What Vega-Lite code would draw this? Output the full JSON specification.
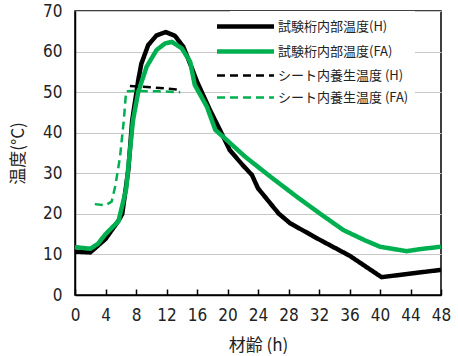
{
  "$schema": "https://vega.github.io/schema/vega-lite/v6.json",
  "width": 366,
  "height": 284,
  "autosize": "none",
  "padding": {"left": 75, "top": 11, "right": 17, "bottom": 61},
  "background": "white",
  "config": {
    "view": {"stroke": "black", "strokeWidth": 1.5},
    "axis": {"labelFont": "Liberation Sans Narrow, DejaVu Sans Condensed, Arial Narrow, Liberation Sans", "labelFontSize": 17, "labelColor": "#222", "titleFont": "Noto Sans CJK JP", "titleFontSize": 17, "titleFontWeight": "normal", "titleColor": "#222"}
  },
  "data": {"values": [
    {"s": "試験桁内部温度(H)", "h": 0, "v": 10.7},
    {"s": "試験桁内部温度(H)", "h": 2, "v": 10.5},
    {"s": "試験桁内部温度(H)", "h": 4, "v": 13.8},
    {"s": "試験桁内部温度(H)", "h": 5.7, "v": 18.3},
    {"s": "試験桁内部温度(H)", "h": 6.2, "v": 20},
    {"s": "試験桁内部温度(H)", "h": 7, "v": 31},
    {"s": "試験桁内部温度(H)", "h": 7.5, "v": 43},
    {"s": "試験桁内部温度(H)", "h": 8.3, "v": 53},
    {"s": "試験桁内部温度(H)", "h": 8.7, "v": 57},
    {"s": "試験桁内部温度(H)", "h": 9.6, "v": 61.6},
    {"s": "試験桁内部温度(H)", "h": 10.7, "v": 64},
    {"s": "試験桁内部温度(H)", "h": 11.9, "v": 64.8},
    {"s": "試験桁内部温度(H)", "h": 13.1, "v": 63.9},
    {"s": "試験桁内部温度(H)", "h": 14.2, "v": 61.2},
    {"s": "試験桁内部温度(H)", "h": 15.1, "v": 57},
    {"s": "試験桁内部温度(H)", "h": 16, "v": 52.6},
    {"s": "試験桁内部温度(H)", "h": 17.7, "v": 45.6},
    {"s": "試験桁内部温度(H)", "h": 19, "v": 40.7},
    {"s": "試験桁内部温度(H)", "h": 20.3, "v": 35.7},
    {"s": "試験桁内部温度(H)", "h": 22, "v": 32},
    {"s": "試験桁内部温度(H)", "h": 23.2, "v": 29.6},
    {"s": "試験桁内部温度(H)", "h": 24, "v": 26.3},
    {"s": "試験桁内部温度(H)", "h": 26.7, "v": 20.1},
    {"s": "試験桁内部温度(H)", "h": 28.2, "v": 17.7},
    {"s": "試験桁内部温度(H)", "h": 32.1, "v": 13.6},
    {"s": "試験桁内部温度(H)", "h": 36, "v": 9.7},
    {"s": "試験桁内部温度(H)", "h": 40.2, "v": 4.4},
    {"s": "試験桁内部温度(H)", "h": 48, "v": 6.2},
    {"s": "試験桁内部温度(FA)", "h": 0, "v": 11.8},
    {"s": "試験桁内部温度(FA)", "h": 2, "v": 11.4},
    {"s": "試験桁内部温度(FA)", "h": 3, "v": 12.6},
    {"s": "試験桁内部温度(FA)", "h": 4, "v": 15},
    {"s": "試験桁内部温度(FA)", "h": 5.7, "v": 18.2},
    {"s": "試験桁内部温度(FA)", "h": 6.7, "v": 26},
    {"s": "試験桁内部温度(FA)", "h": 7.6, "v": 43},
    {"s": "試験桁内部温度(FA)", "h": 8.3, "v": 50.1},
    {"s": "試験桁内部温度(FA)", "h": 9.4, "v": 56.3},
    {"s": "試験桁内部温度(FA)", "h": 10.7, "v": 60.4},
    {"s": "試験桁内部温度(FA)", "h": 11.8, "v": 62},
    {"s": "試験桁内部温度(FA)", "h": 12.7, "v": 62.4},
    {"s": "試験桁内部温度(FA)", "h": 14, "v": 60.8},
    {"s": "試験桁内部温度(FA)", "h": 15.1, "v": 57.5},
    {"s": "試験桁内部温度(FA)", "h": 15.7, "v": 51.8},
    {"s": "試験桁内部温度(FA)", "h": 17.3, "v": 46.4},
    {"s": "試験桁内部温度(FA)", "h": 18.4, "v": 40.7},
    {"s": "試験桁内部温度(FA)", "h": 19.9, "v": 38.2},
    {"s": "試験桁内部温度(FA)", "h": 22.3, "v": 34.1},
    {"s": "試験桁内部温度(FA)", "h": 25.6, "v": 29.2},
    {"s": "試験桁内部温度(FA)", "h": 29.1, "v": 24.2},
    {"s": "試験桁内部温度(FA)", "h": 32.1, "v": 20.1},
    {"s": "試験桁内部温度(FA)", "h": 35.2, "v": 16},
    {"s": "試験桁内部温度(FA)", "h": 38, "v": 13.5},
    {"s": "試験桁内部温度(FA)", "h": 40, "v": 11.9},
    {"s": "試験桁内部温度(FA)", "h": 43.5, "v": 10.8},
    {"s": "試験桁内部温度(FA)", "h": 45.2, "v": 11.3},
    {"s": "試験桁内部温度(FA)", "h": 48, "v": 11.9},
    {"s": "シート内養生温度 (H)", "h": 7.2, "v": 51.5},
    {"s": "シート内養生温度 (H)", "h": 10, "v": 51.2},
    {"s": "シート内養生温度 (H)", "h": 13.8, "v": 50.6},
    {"s": "シート内養生温度 (FA)", "h": 2.6, "v": 22.4},
    {"s": "シート内養生温度 (FA)", "h": 4, "v": 22.1},
    {"s": "シート内養生温度 (FA)", "h": 4.8, "v": 23},
    {"s": "シート内養生温度 (FA)", "h": 5.3, "v": 27},
    {"s": "シート内養生温度 (FA)", "h": 5.9, "v": 34},
    {"s": "シート内養生温度 (FA)", "h": 6.4, "v": 43},
    {"s": "シート内養生温度 (FA)", "h": 6.7, "v": 50.2},
    {"s": "シート内養生温度 (FA)", "h": 8, "v": 50.3},
    {"s": "シート内養生温度 (FA)", "h": 11, "v": 50.2},
    {"s": "シート内養生温度 (FA)", "h": 13.8, "v": 50}
  ]},
  "mark": {"type": "line", "strokeJoin": "round"},
  "encoding": {
    "x": {"field": "h", "type": "quantitative", "scale": {"domain": [0, 48], "nice": false},
      "axis": {"values": [0,4,8,12,16,20,24,28,32,36,40,44,48], "title": "材齢 (h)", "grid": false, "domainColor": "black", "domainWidth": 1.5, "ticks": true, "tickColor": "black", "tickSize": -6, "tickWidth": 1.5, "labelPadding": 18, "labelAngle": 0, "labelFlush": false, "labelOverlap": false, "titlePadding": 14, "zindex": 2}},
    "y": {"field": "v", "type": "quantitative", "scale": {"domain": [0, 70], "nice": false},
      "axis": {"values": [0,10,20,30,40,50,60,70], "title": "温度(°C)", "titleFontSize": 17, "grid": true, "gridColor": "#c8c8c8", "gridWidth": 1, "domainColor": "black", "domainWidth": 1.5, "ticks": false, "labelPadding": 13, "titlePadding": 15, "labelFlush": false, "labelOverlap": false}},
    "color": {"field": "s", "type": "nominal",
      "scale": {"domain": ["試験桁内部温度(H)", "試験桁内部温度(FA)", "シート内養生温度 (H)", "シート内養生温度 (FA)"], "range": ["#000000", "#00b050", "#000000", "#00b050"]},
      "legend": {"title": null, "orient": "none", "legendX": 155, "legendY": 0, "fillColor": "white", "padding": 6, "symbolType": "M-4,0H4", "symbolSize": 203, "labelFont": "Noto Sans CJK JP", "labelFontSize": 13, "labelColor": "#222", "rowPadding": 6, "labelOffset": 23}},
    "strokeDash": {"field": "s", "type": "nominal",
      "scale": {"domain": ["試験桁内部温度(H)", "試験桁内部温度(FA)", "シート内養生温度 (H)", "シート内養生温度 (FA)"], "range": [[1, 0], [1, 0], [8, 5], [8, 5]]}},
    "strokeWidth": {"field": "s", "type": "nominal",
      "scale": {"type": "ordinal", "domain": ["試験桁内部温度(H)", "試験桁内部温度(FA)", "シート内養生温度 (H)", "シート内養生温度 (FA)"], "range": [4.5, 4.5, 2.5, 2.5]}},
    "order": {"field": "h", "type": "quantitative"}
  }
}
